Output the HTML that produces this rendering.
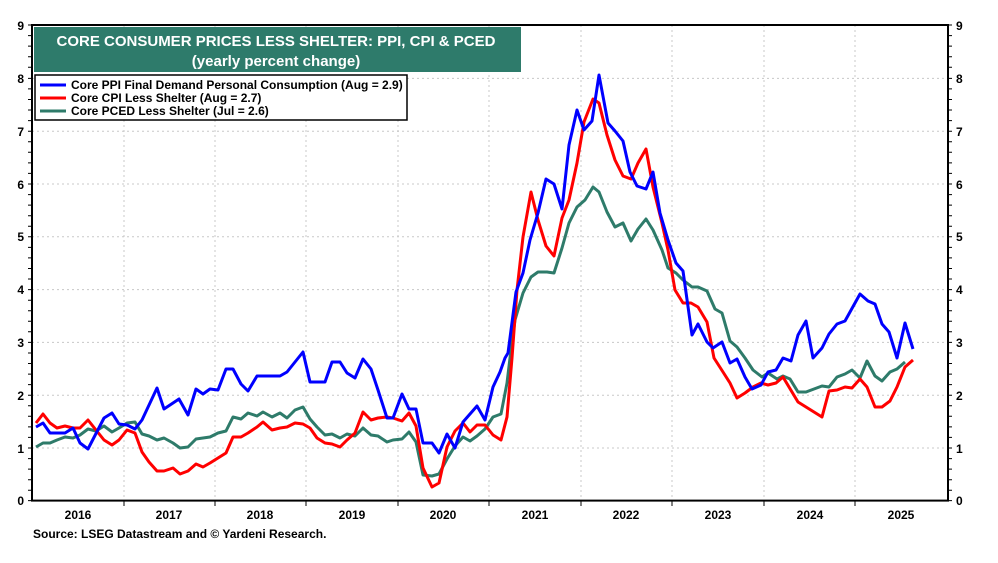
<!DOCTYPE html>
<html><head><meta charset="utf-8"><style>
body{margin:0;background:#fff;}
svg{display:block;font-family:"Liberation Sans",Arial,sans-serif;font-weight:bold;}
</style></head><body>
<svg width="998" height="563" viewBox="0 0 998 563" xmlns="http://www.w3.org/2000/svg">
<g stroke="#c8c8c8" stroke-width="1" stroke-dasharray="2,3">
<line x1="32" x2="948" y1="78.4" y2="78.4"/><line x1="32" x2="948" y1="131.2" y2="131.2"/>
<line x1="32" x2="948" y1="184" y2="184"/><line x1="32" x2="948" y1="236.8" y2="236.8"/>
<line x1="32" x2="948" y1="289.6" y2="289.6"/><line x1="32" x2="948" y1="342.4" y2="342.4"/>
<line x1="32" x2="948" y1="395.2" y2="395.2"/><line x1="32" x2="948" y1="448" y2="448"/>
<line x1="124" x2="124" y1="25" y2="500"/><line x1="215" x2="215" y1="25" y2="500"/>
<line x1="306" x2="306" y1="25" y2="500"/><line x1="398" x2="398" y1="25" y2="500"/>
<line x1="489" x2="489" y1="25" y2="500"/><line x1="581" x2="581" y1="25" y2="500"/>
<line x1="672" x2="672" y1="25" y2="500"/><line x1="764" x2="764" y1="25" y2="500"/>
<line x1="855" x2="855" y1="25" y2="500"/>
</g>
<g fill="none" stroke-width="3" stroke-linejoin="round">
<polyline stroke="#2e7b6a" points="36,447 43,443 50,443 57,440 65,437 73,438 80,435 88,429 96,431 104,426 112,432 119,428 127,423 135,422 142,434 149,436 157,440 164,438 173,443 180,448 188,447 196,439 203,438 210,437 218,433 226,431 233,417 241,419 248,413 257,416 263,412 272,417 280,413 287,418 295,410 303,407 310,419 317,427 325,435 332,434 340,438 347,434 355,436 363,428 371,435 378,436 387,442 393,440 402,439 409,432 416,442 423,475 432,476 439,474 447,459 455,446 463,437 470,441 477,436 485,429 493,417 501,414 507,383 510,358 515,320 523,293 531,277 538,272 547,272 554,273 562,248 569,223 577,207 585,200 593,187 599,192 607,212 615,227 623,223 631,241 638,229 646,219 653,230 662,250 668,268 676,273 683,280 692,287 698,287 707,291 715,309 722,313 730,341 737,347 745,358 753,370 762,377 768,373 777,379 783,376 790,379 798,392 806,392 822,386 829,387 837,377 845,374 852,370 860,378 867,361 875,376 882,381 890,372 897,369 905,362"/>
<polyline stroke="#ff0000" points="36,423 43,414 50,423 57,428 65,426 73,428 80,428 88,420 96,430 104,440 112,445 119,440 127,430 135,433 142,452 149,462 157,471 164,471 173,468 180,474 188,471 196,464 203,467 210,463 218,458 226,453 233,437 241,437 248,433 257,427 263,422 272,430 280,428 287,427 295,423 303,424 310,428 317,438 325,443 332,444 340,447 347,440 355,433 363,412 371,420 378,418 387,417 393,418 402,421 409,413 416,426 423,468 432,487 439,483 447,447 455,431 463,423 470,432 477,425 485,425 493,435 501,440 507,417 512,358 517,290 523,237 531,192 538,220 546,246 554,256 562,218 569,200 577,163 584,122 593,99 599,103 607,135 615,160 623,176 631,179 638,163 646,149 653,187 662,223 668,250 675,290 683,303 691,303 698,307 707,322 714,358 723,372 730,383 737,398 745,393 753,387 761,383 768,385 776,383 783,377 798,402 822,417 829,391 837,390 845,387 852,388 860,379 867,387 875,407 882,407 890,401 897,387 905,367 913,360"/>
<polyline stroke="#0000ff" points="36,427 43,423 50,433 65,433 73,428 80,443 88,449 104,418 112,413 119,424 127,425 135,429 142,420 157,388 164,409 179,399 188,415 196,389 203,394 210,389 218,390 226,369 233,369 241,384 248,391 257,376 280,376 287,372 303,352 310,382 325,382 332,362 340,362 347,373 355,378 363,359 371,369 378,390 387,418 393,418 402,394 409,409 416,409 423,443 432,443 439,453 447,434 455,448 463,422 470,414 477,406 485,420 493,387 500,372 505,358 508,353 516,292 523,273 530,240 538,213 546,179 554,184 562,209 569,145 577,110 584,130 592,121 599,75 608,123 615,131 623,141 630,172 637,186 646,189 653,172 660,213 668,240 676,263 683,271 692,335 698,324 707,342 713,348 722,342 730,363 737,359 745,377 752,389 761,385 768,372 776,370 783,358 791,361 798,335 806,321 813,358 822,348 829,334 837,324 845,321 860,294 868,301 875,304 882,324 889,332 897,358 905,323 913,349"/>
</g>
<rect x="32" y="25" width="916" height="475.6" fill="none" stroke="#000" stroke-width="2"/>
<g stroke="#000" stroke-width="1">
<line x1="124" x2="124" y1="500" y2="506"/><line x1="215" x2="215" y1="500" y2="506"/><line x1="306" x2="306" y1="500" y2="506"/><line x1="398" x2="398" y1="500" y2="506"/><line x1="489" x2="489" y1="500" y2="506"/><line x1="581" x2="581" y1="500" y2="506"/><line x1="672" x2="672" y1="500" y2="506"/><line x1="764" x2="764" y1="500" y2="506"/><line x1="855" x2="855" y1="500" y2="506"/>
</g>
<path d="M28 25h4M28 35.6h4M28 46.1h4M28 56.7h4M28 67.2h4M28 78.4h4M28 88.9h4M28 99.5h4M28 110h4M28 120.6h4M28 131.2h4M28 141.8h4M28 152.3h4M28 162.9h4M28 173.4h4M28 184h4M28 194.6h4M28 205.1h4M28 215.7h4M28 226.2h4M28 236.8h4M28 247.4h4M28 257.9h4M28 268.5h4M28 279h4M28 289.6h4M28 300.2h4M28 310.7h4M28 321.3h4M28 331.8h4M28 342.4h4M28 353h4M28 363.5h4M28 374.1h4M28 384.6h4M28 395.2h4M28 405.8h4M28 416.3h4M28 426.9h4M28 437.4h4M28 448h4M28 458.6h4M28 469.1h4M28 479.7h4M28 490.2h4M28 500.6h4" stroke="#000" stroke-width="1"/>
<path d="M948 25h4M948 35.6h4M948 46.1h4M948 56.7h4M948 67.2h4M948 78.4h4M948 88.9h4M948 99.5h4M948 110h4M948 120.6h4M948 131.2h4M948 141.8h4M948 152.3h4M948 162.9h4M948 173.4h4M948 184h4M948 194.6h4M948 205.1h4M948 215.7h4M948 226.2h4M948 236.8h4M948 247.4h4M948 257.9h4M948 268.5h4M948 279h4M948 289.6h4M948 300.2h4M948 310.7h4M948 321.3h4M948 331.8h4M948 342.4h4M948 353h4M948 363.5h4M948 374.1h4M948 384.6h4M948 395.2h4M948 405.8h4M948 416.3h4M948 426.9h4M948 437.4h4M948 448h4M948 458.6h4M948 469.1h4M948 479.7h4M948 490.2h4M948 500.6h4" stroke="#000" stroke-width="1"/>
<g font-size="12" fill="#000">
<g text-anchor="end">
<text x="24" y="30">9</text><text x="24" y="83">8</text><text x="24" y="136">7</text><text x="24" y="189">6</text><text x="24" y="241">5</text><text x="24" y="294">4</text><text x="24" y="347">3</text><text x="24" y="400">2</text><text x="24" y="453">1</text><text x="24" y="505">0</text>
</g>
<g>
<text x="956" y="30">9</text><text x="956" y="83">8</text><text x="956" y="136">7</text><text x="956" y="189">6</text><text x="956" y="241">5</text><text x="956" y="294">4</text><text x="956" y="347">3</text><text x="956" y="400">2</text><text x="956" y="453">1</text><text x="956" y="505">0</text>
</g>
<g text-anchor="middle">
<text x="78" y="519">2016</text><text x="169" y="519">2017</text><text x="260" y="519">2018</text><text x="352" y="519">2019</text><text x="443" y="519">2020</text><text x="535" y="519">2021</text><text x="626" y="519">2022</text><text x="718" y="519">2023</text><text x="810" y="519">2024</text><text x="901" y="519">2025</text>
</g>
<text x="33" y="538">Source: LSEG Datastream and © Yardeni Research.</text>
</g>
<rect x="34" y="27" width="487" height="45" fill="#2e7b6b"/>
<g fill="#fff" font-size="15" text-anchor="middle">
<text x="276" y="46">CORE CONSUMER PRICES LESS SHELTER: PPI, CPI &amp; PCED</text>
<text x="276" y="66">(yearly percent change)</text>
</g>
<rect x="35" y="75" width="372" height="45" fill="#fff" stroke="#000" stroke-width="1.5"/>
<g stroke-width="3">
<line x1="40" x2="66" y1="85" y2="85" stroke="#0000ff"/>
<line x1="40" x2="66" y1="98" y2="98" stroke="#ff0000"/>
<line x1="40" x2="66" y1="111" y2="111" stroke="#2e7b6a"/>
</g>
<g font-size="12" fill="#000">
<text x="71" y="89">Core PPI Final Demand Personal Consumption (Aug = 2.9)</text>
<text x="71" y="102">Core CPI Less Shelter (Aug = 2.7)</text>
<text x="71" y="115">Core PCED Less Shelter (Jul = 2.6)</text>
</g>
</svg>
</body></html>
